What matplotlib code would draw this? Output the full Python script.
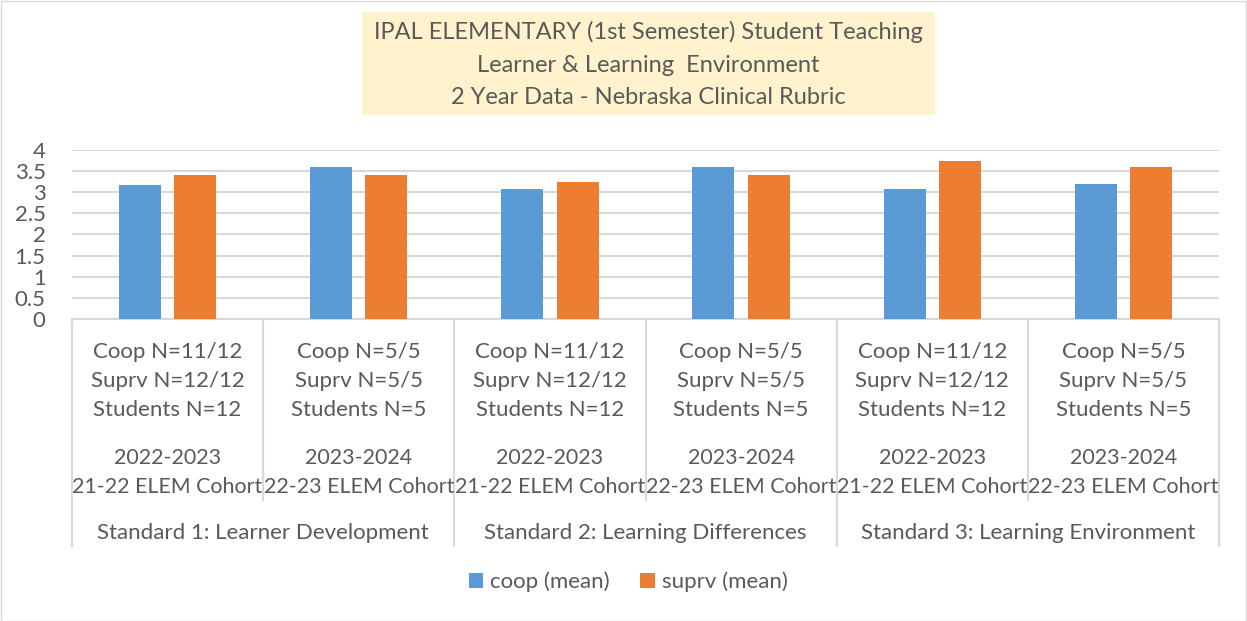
import numpy as np
import matplotlib.pyplot as plt
from matplotlib.patches import Rectangle
from matplotlib.lines import Line2D
from matplotlib.transforms import blended_transform_factory

plt.rcParams['font.family'] = ['Lato', 'DejaVu Sans']

coop = [3.17, 3.60, 3.08, 3.60, 3.08, 3.20]
suprv = [3.42, 3.40, 3.24, 3.40, 3.75, 3.60]
n_labels = ['Coop N=11/12\nSuprv N=12/12\nStudents N=12',
            'Coop N=5/5\nSuprv N=5/5\nStudents N=5'] * 3
years = ['2022-2023\n21-22 ELEM Cohort', '2023-2024\n22-23 ELEM Cohort'] * 3
standards = ['Standard 1: Learner Development',
             'Standard 2: Learning Differences',
             'Standard 3: Learning Environment']
title_lines = ['IPAL ELEMENTARY (1st Semester) Student Teaching',
               'Learner & Learning  Environment',
               '2 Year Data - Nebraska Clinical Rubric']

W, H = 1247, 621
txt = '#595959'
grid = '#D9D9D9'
fs = 16

fig = plt.figure(figsize=(W / 100, H / 100), dpi=100)
ax = fig.add_axes([72 / W, 1 - 319 / H, (1219 - 72) / W, (319 - 150) / H])

x = np.arange(len(coop))
bw = 0.22
ax.bar(x - 0.145, coop, bw, color='#5B9BD5', label='coop (mean)', zorder=3)
ax.bar(x + 0.145, suprv, bw, color='#ED7D31', label='suprv (mean)', zorder=3)

ax.set_xlim(-0.5, len(coop) - 0.5)
ax.set_ylim(0, 4)
ax.set_yticks(np.arange(0, 4.01, 0.5))
ax.set_yticklabels(['0', '0.5', '1', '1.5', '2', '2.5', '3', '3.5', '4'])
ax.yaxis.grid(True, color=grid, linewidth=1.5, zorder=0)
ax.set_xticks([])
ax.tick_params(axis='y', length=0, labelsize=fs, labelcolor=txt, pad=19)
for s in ['top', 'right', 'left']:
    ax.spines[s].set_visible(False)
ax.spines['bottom'].set_color(grid)
ax.spines['bottom'].set_linewidth(1.5)

# multi-level category axis
tr = blended_transform_factory(ax.transData, fig.transFigure)
fy = lambda p: 1 - p / H
for i in range(len(coop)):
    ax.text(i, fy(381), n_labels[i], transform=tr, ha='center', va='center',
            fontsize=fs, color=txt, linespacing=1.55)
    ax.text(i, fy(472.5), years[i], transform=tr, ha='center', va='center',
            fontsize=15.4, color=txt, linespacing=1.6)
for j, s in enumerate(standards):
    ax.text(2 * j + 0.5, fy(533), s, transform=tr, ha='center', va='center',
            fontsize=fs, color=txt)
for k in range(len(coop) + 1):
    xe = k - 0.5
    bottom = 546 if k % 2 == 0 else 500
    ax.add_line(Line2D([xe, xe], [fy(319), fy(bottom)], transform=tr,
                       color=grid, linewidth=1.5, clip_on=False))

# title box
fig.patches.append(Rectangle((362 / W, fy(115)), (935 - 362) / W, (115 - 12) / H,
                             transform=fig.transFigure, facecolor='#FFF2CC',
                             edgecolor='none', zorder=0))
for yy, t in zip([32, 65, 97], title_lines):
    fig.text(648 / W, fy(yy), t, ha='center', va='center', fontsize=17, color=txt)

fig.legend(loc='center', bbox_to_anchor=(628 / W, fy(582)), ncol=2, frameon=False,
           fontsize=fs, labelcolor=txt, handlelength=0.65, handleheight=0.65,
           handletextpad=0.3, columnspacing=1.4)

fig.patches.append(Rectangle((0.5 / W, 0.5 / H), 1 - 1.5 / W, 1 - 1.5 / H,
                             transform=fig.transFigure, fill=False,
                             edgecolor=grid, linewidth=1))

fig.savefig('out.png', dpi=100)
